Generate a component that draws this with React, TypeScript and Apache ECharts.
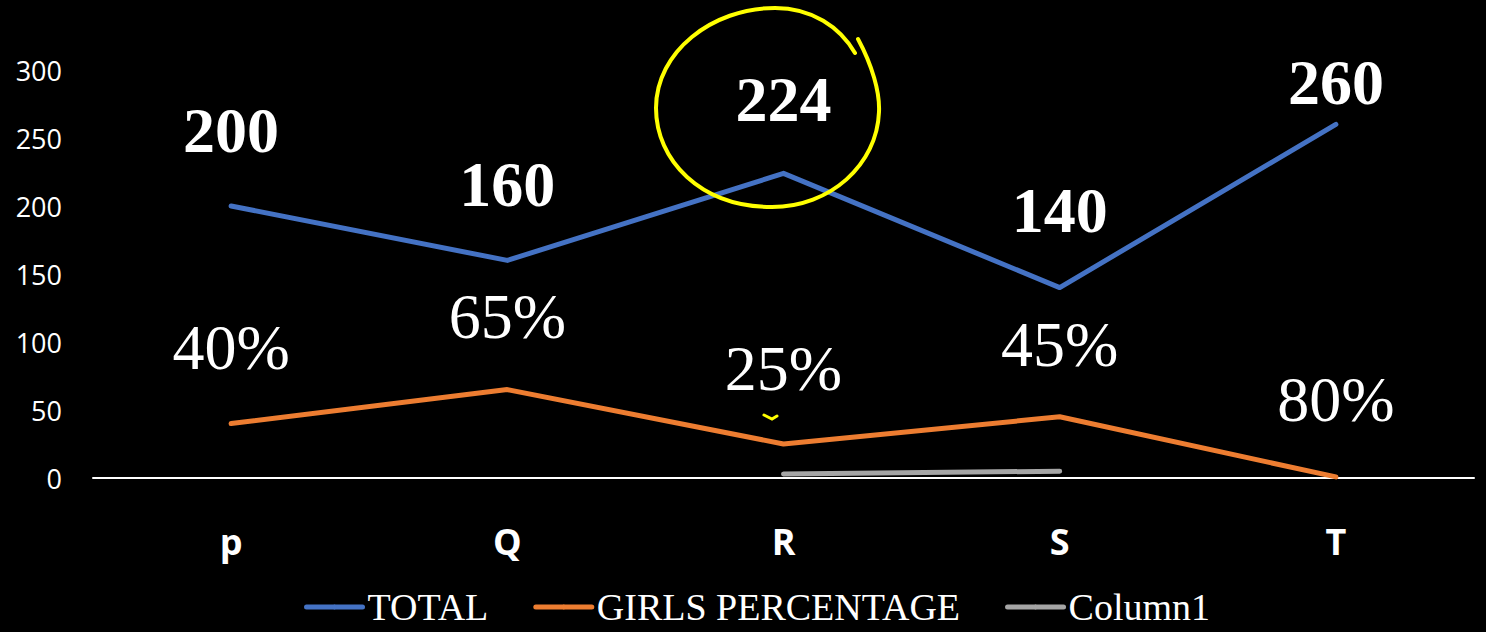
import React, { useEffect, useRef } from "react";
import * as echarts from "echarts";

const categories = ["p", "Q", "R", "S", "T"];
const totalValues = [200, 160, 224, 140, 260];
const girlsValues = [40, 65, 25, 45, 0.8];
const girlsLabels = ["40%", "65%", "25%", "45%", "80%"];
const column1Values: (number | null)[] = [null, null, 3, 5, null];
const yTicks = { min: 0, max: 300, interval: 50 };

// label distances above the points (style only)
const totalLabelDistance = [75, 75, 73, 77, 41];
const girlsLabelDistance = [76, 73, 75, 72, 77];

const BLUE = "#4472C4";
const ORANGE = "#ED7D31";
const GRAY = "#A5A5A5";
const YELLOW = "#FFFF00";
const SERIF = "'Liberation Serif', 'Times New Roman', serif";
const SANS = "'Open Sans', 'Noto Sans', sans-serif";

let registered = false;
function registerShapes() {
  if (registered) return;
  registered = true;
  const d =
    "M858,39 C872,65 880,92 879,112 C877,165 830,207 772,207 C700,207 656,160 656,108 C656,52 712,8 775,8 C812,8 840,27 855,53";
  echarts.graphic.registerShape("yellowLoop", echarts.graphic.extendPath(d, {}) as any);
}

export default function App() {
  const ref = useRef<HTMLDivElement>(null);
  useEffect(() => {
    if (!ref.current) return;
    registerShapes();
    const chart = echarts.init(ref.current, undefined, { renderer: "svg" });
    const labelSeries = (
      name: string,
      values: number[],
      texts: string[],
      dist: number[],
      bold: boolean
    ) => ({
      name,
      type: "scatter",
      symbol: "circle",
      symbolSize: 1,
      itemStyle: { color: "rgba(0,0,0,0)", opacity: 1 },
      silent: true,
      z: 5,
      data: values.map((v, i) => ({
        value: v,
        label: {
          show: true,
          position: "top",
          distance: dist[i],
          verticalAlign: "middle",
          align: "center",
          formatter: texts[i],
          color: "#FFFFFF",
          opacity: 1,
          fontFamily: SERIF,
          fontSize: 64,
          fontWeight: bold ? "bold" : "normal",
        },
      })),
    });
    chart.setOption({
      animation: false,
      backgroundColor: "#000000",
      grid: { left: 93, right: 12, top: 70, bottom: 154, containLabel: false },
      legend: {
        data: ["TOTAL", "GIRLS PERCENTAGE", "Column1"],
        left: 304,
        top: 588,
        padding: 0,
        itemGap: 45,
        itemWidth: 56,
        itemHeight: 6,
        lineStyle: { width: 5, cap: "round" },
        textStyle: { color: "#FFFFFF", fontFamily: SERIF, fontSize: 38, lineHeight: 36 },
      },
      xAxis: {
        type: "category",
        data: categories,
        boundaryGap: true,
        axisLine: { show: true, lineStyle: { color: "#FFFFFF", width: 2 } },
        axisTick: { show: false },
        axisLabel: {
          color: "#FFFFFF",
          fontFamily: SANS,
          fontWeight: "bold",
          fontSize: 36,
          margin: 45,
        },
        splitLine: { show: false },
      },
      yAxis: {
        type: "value",
        min: yTicks.min,
        max: yTicks.max,
        interval: yTicks.interval,
        axisLine: { show: false },
        axisTick: { show: false },
        splitLine: { show: false },
        axisLabel: { color: "#FFFFFF", fontFamily: SANS, fontSize: 27, margin: 31 },
      },
      series: [
        {
          name: "TOTAL",
          type: "line",
          data: totalValues,
          symbol: "none",
          lineStyle: { color: BLUE, width: 5, cap: "round", join: "round" },
          itemStyle: { color: BLUE },
        },
        {
          name: "GIRLS PERCENTAGE",
          type: "line",
          data: girlsValues,
          symbol: "none",
          lineStyle: { color: ORANGE, width: 5, cap: "round", join: "round" },
          itemStyle: { color: ORANGE },
        },
        {
          name: "Column1",
          type: "line",
          data: column1Values,
          symbol: "none",
          connectNulls: false,
          lineStyle: { color: GRAY, width: 5, cap: "round", join: "round" },
          itemStyle: { color: GRAY },
        },
        labelSeries("totalLabels", totalValues, totalValues.map(String), totalLabelDistance, true),
        labelSeries("girlsLabels", girlsValues, girlsLabels, girlsLabelDistance, false),
      ],
      graphic: [
        {
          type: "yellowLoop",
          x: 0,
          y: 0,
          silent: true,
          z: 10,
          style: { fill: "none", stroke: YELLOW, lineWidth: 4, lineCap: "round" },
        },
        {
          type: "polyline",
          silent: true,
          z: 10,
          shape: { points: [[764, 415], [772, 419], [777, 416]] },
          style: { fill: "none", stroke: YELLOW, lineWidth: 3, lineCap: "round" },
        },
      ],
    } as any);
    return () => chart.dispose();
  }, []);
  return (
    <div
      ref={ref}
      style={{ position: "absolute", left: 0, top: 0, width: 1486, height: 632 }}
    />
  );
}
